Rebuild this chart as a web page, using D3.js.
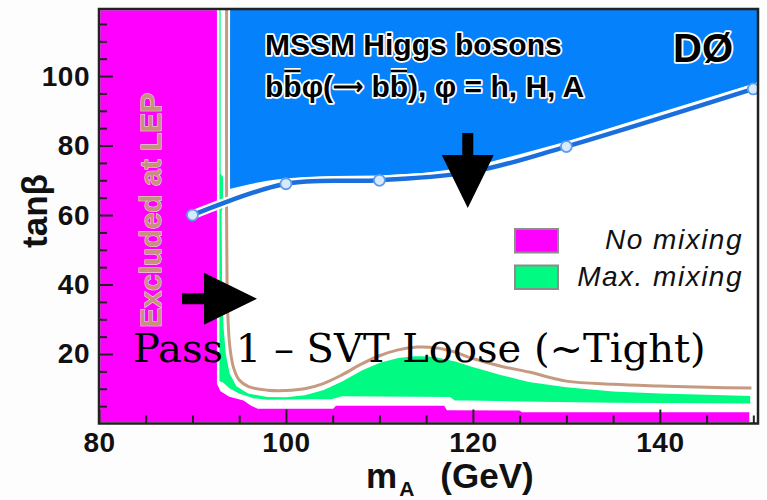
<!DOCTYPE html>
<html>
<head>
<meta charset="utf-8">
<script src="https://cdn.jsdelivr.net/npm/d3@7"></script>
<style>
  body { margin: 0; background: #fdfdfd; }
  svg { display: block; }
</style>
</head>
<body>
<div id="chart"></div>
<script>
// axis ticks
var xTicks = [80, 100, 120, 140];
var yTicks = [20, 40, 60, 80, 100];
var xMinor = [85, 90, 95, 105, 110, 115, 125, 130, 135, 145, 150];
var yMinor = [5, 10, 15, 25, 30, 35, 45, 50, 55, 65, 70, 75, 85, 90, 95, 105, 110, 115];

// D0 limit curve (points)
var limitMass = [90, 100, 110, 120, 130, 150];
var limitTanb = [60, 69, 70, 72.5, 79.7, 96.3];

// lower edge of the D0 excluded (blue) area
var d0EdgeMass = [93.95, 96, 98, 100, 105, 110, 115, 120, 125, 130, 140, 150, 150.5];
var d0EdgeTanb = [67.5, 68.8, 69.9, 70.6, 71.2, 71.4, 72.2, 74, 77.5, 81.2, 89.5, 97.8, 98.3];

// LEP excluded, no mixing (magenta)
var noMixMass = [80, 92.75, 92.75, 93.1, 94, 95.5, 96.3, 97, 105, 105.3, 117, 117.3, 125, 125.3, 149.7, 149.7, 80];
var noMixTanb = [119.3, 119.3, 11.5, 9.5, 8.0, 7.0, 5.5, 4.6, 4.6, 5.5, 5.5, 4.2, 4.1, 3.6, 3.6, 0, 0];

// LEP excluded, max. mixing (green)
var maxMixMass = [92.7, 93.15, 93.15, 93.55, 93.55, 93.25, 93.3, 93.45, 93.7, 94.1, 94.8, 96, 98, 100, 102, 104, 106, 108, 110, 112, 114, 116, 118, 120, 123, 126, 130, 135, 140, 145, 149.8,
                  149.8, 135, 125, 118, 117.5, 106, 105, 98, 96.5, 95, 93.8, 93.2, 92.7];
var maxMixTanb = [119.3, 119.3, 72, 70.5, 64, 61, 40, 28, 20, 14.5, 11, 9, 8, 7.9, 8.5, 10, 12.5, 15.5, 17.8, 19.2, 19.8, 19.5, 18.3, 16.6, 14.3, 12.3, 10.8, 9.6, 9.0, 8.6, 8.3,
                  5.4, 5.6, 6.0, 6.3, 7.3, 7.5, 6.7, 6.5, 6.9, 8.2, 10, 11.5, 12];

// LEP max. mixing contour (brown line)
var lepLineMass = [93.65, 93.65, 93.7, 93.8, 94.0, 94.4, 95.0, 96, 98, 100, 102, 104, 106, 108, 110, 112, 114, 116, 118, 120, 123, 126, 130, 135, 140, 145, 149.8];
var lepLineTanb = [119.3, 60, 40, 30, 22, 16, 12.5, 10.6, 9.6, 9.5, 10, 11.5, 14, 17, 19.5, 21.2, 22, 21.8, 20.6, 18.7, 16.5, 14.8, 12.2, 11.3, 10.8, 10.4, 10.2];

var legendLabels = ['No mixing', 'Max. mixing'];

// annotation arrows: tip position in (mA, tanb)
var arrowMass = [119.45, 96.9];
var arrowTanb = [62, 35.9];
var arrowDir = ['down', 'right'];

function drawChart() {
  var W = 767, H = 500;
  var colors = { blue: '#0582fb', line: '#1b6fdc', noMix: '#ff00ff', maxMix: '#00fa82', brown: '#c59a80', lep: '#c4937a' };

  var x = d3.scaleLinear().domain([80, 150.5]).range([99, 758]);
  var y = d3.scaleLinear().domain([0, 119.3]).range([423.5, 9]);

  var svg = d3.select('#chart').append('svg')
    .attr('width', W)
    .attr('height', H)
    .style('font-family', '"Liberation Sans", Arial, sans-serif');

  svg.append('rect').attr('width', W).attr('height', H).attr('fill', '#fdfdfd');

  svg.append('clipPath').attr('id', 'plotClip')
    .append('rect')
    .attr('x', x(80)).attr('y', y(119.3))
    .attr('width', x(150.5) - x(80)).attr('height', y(0) - y(119.3));

  var plot = svg.append('g').attr('clip-path', 'url(#plotClip)');
  plot.append('rect')
    .attr('x', x(80)).attr('y', y(119.3))
    .attr('width', x(150.5) - x(80)).attr('height', y(0) - y(119.3))
    .attr('fill', '#fff');

  function pts(ms, ts) {
    return ms.map(function(m, i) { return [x(m), y(ts[i])]; });
  }
  var straight = d3.line();
  var smooth = d3.line().curve(d3.curveCatmullRom.alpha(0.5));

  // blue excluded area
  var bluePts = [[x(93.95), y(119.3)]].concat(pts(d0EdgeMass, d0EdgeTanb)).concat([[x(150.5), y(119.3)]]);
  plot.append('path')
    .attr('d', straight(bluePts) + 'Z')
    .attr('fill', colors.blue);

  // LEP regions
  plot.append('path')
    .attr('d', straight(pts(maxMixMass, maxMixTanb)) + 'Z')
    .attr('fill', colors.maxMix)
    .attr('stroke', '#fff').attr('stroke-width', 2.5);

  plot.append('path')
    .attr('d', straight(pts(noMixMass, noMixTanb)) + 'Z')
    .attr('fill', colors.noMix)
    .attr('stroke', '#fff').attr('stroke-width', 2.5);

  var lepLine = smooth(pts(lepLineMass, lepLineTanb));
  plot.append('path').attr('d', lepLine).attr('fill', 'none')
    .attr('stroke', '#fff').attr('stroke-width', 7);
  plot.append('path').attr('d', lepLine).attr('fill', 'none')
    .attr('stroke', colors.brown).attr('stroke-width', 3);

  // D0 limit curve
  var limitLine = smooth(pts(limitMass, limitTanb));
  plot.append('path').attr('d', limitLine).attr('fill', 'none')
    .attr('stroke', '#fff').attr('stroke-width', 9).attr('stroke-linecap', 'round');
  plot.append('path').attr('d', limitLine).attr('fill', 'none')
    .attr('stroke', colors.line).attr('stroke-width', 4.5).attr('stroke-linecap', 'round');

  plot.selectAll('circle.pt')
    .data(limitMass)
    .enter()
    .append('circle')
    .attr('class', 'pt')
    .attr('cx', function(d) { return x(d); })
    .attr('cy', function(d, i) { return y(limitTanb[i]); })
    .attr('r', 5.5)
    .attr('fill', '#d6e9ff')
    .attr('stroke', '#5c9de8')
    .attr('stroke-width', 1.8);

  // rotated LEP label
  plot.append('text')
    .attr('transform', 'translate(' + x(86.6) + ',' + y(61.4) + ') rotate(-90)')
    .attr('text-anchor', 'middle')
    .style('font-size', '30px')
    .style('font-weight', 'bold')
    .attr('fill', colors.lep)
    .attr('stroke', '#fbe6f5').attr('stroke-width', 1)
    .attr('paint-order', 'stroke')
    .text('Excluded at LEP');

  // titles inside the plot
  var titleG = svg.append('g')
    .style('font-weight', 'bold')
    .attr('fill', '#000')
    .attr('stroke', '#fff').attr('stroke-width', 3.5)
    .attr('paint-order', 'stroke')
    .attr('stroke-linejoin', 'round');

  titleG.append('text')
    .attr('x', 265).attr('y', 55)
    .style('font-size', '30px')
    .text('MSSM Higgs bosons');

  var line2 = titleG.append('text')
    .attr('x', 265).attr('y', 97)
    .style('font-size', '30px');
  line2.append('tspan').text('bb\u03c6(');
  line2.append('tspan').style('font-size', '21px').attr('dy', -3).text('\u27f6');
  line2.append('tspan').attr('dy', 3).text(' bb), \u03c6 = h, H, A');

  [1, 7].forEach(function(i) {
    var ext = line2.node().getExtentOfChar(i);
    var ly = 97 - 26;
    titleG.append('line')
      .attr('x1', ext.x + 1).attr('x2', ext.x + ext.width - 1)
      .attr('y1', ly).attr('y2', ly)
      .attr('stroke', '#fff').attr('stroke-width', 6);
    titleG.append('line')
      .attr('x1', ext.x + 1).attr('x2', ext.x + ext.width - 1)
      .attr('y1', ly).attr('y2', ly)
      .attr('stroke', '#000').attr('stroke-width', 2.5);
  });

  titleG.append('text')
    .attr('x', 733).attr('y', 62)
    .attr('text-anchor', 'end')
    .style('font-size', '40px')
    .text('D\u00d8');

  // legend
  var legend = svg.append('g');
  legend.selectAll('rect')
    .data(legendLabels)
    .enter()
    .append('rect')
    .attr('x', 515)
    .attr('y', function(d, i) { return 229 + i * 36.5; })
    .attr('width', 43)
    .attr('height', 23.5)
    .attr('fill', function(d, i) { return i === 0 ? colors.noMix : colors.maxMix; })
    .attr('stroke', '#8c8c8c')
    .attr('stroke-width', 2);
  legend.selectAll('text')
    .data(legendLabels)
    .enter()
    .append('text')
    .attr('x', 743)
    .attr('y', function(d, i) { return 249 + i * 36.5; })
    .attr('text-anchor', 'end')
    .style('font-size', '28px')
    .style('font-style', 'italic')
    .style('letter-spacing', '1.5px')
    .attr('fill', '#111')
    .text(function(d) { return d; });

  // arrows
  svg.selectAll('path.arrow')
    .data(arrowMass)
    .enter()
    .append('path')
    .attr('class', 'arrow')
    .attr('fill', '#000')
    .attr('transform', function(d, i) {
      var rot = arrowDir[i] === 'down' ? 90 : 0;
      return 'translate(' + x(d) + ',' + y(arrowTanb[i]) + ') rotate(' + rot + ')';
    })
    .attr('d', 'M0,0 L-53,-26 L-53,-5.5 L-75,-5.5 L-75,5.5 L-53,5.5 L-53,26 Z');

  // frame and axes
  var yAxis = d3.axisLeft(y).tickValues(yTicks).tickSize(-14).tickPadding(9).tickFormat(d3.format('d'));
  var yAxisMinor = d3.axisLeft(y).tickValues(yMinor).tickSize(-8).tickFormat('');
  var xAxis = d3.axisBottom(x).tickValues(xTicks).tickSize(-14).tickPadding(9).tickFormat(d3.format('d'));
  var xAxisMinor = d3.axisBottom(x).tickValues(xMinor).tickSize(-8).tickFormat('');

  [yAxis, yAxisMinor].forEach(function(ax) {
    svg.append('g')
      .attr('transform', 'translate(' + x(80) + ',0)')
      .call(ax);
  });
  [xAxis, xAxisMinor].forEach(function(ax) {
    svg.append('g')
      .attr('transform', 'translate(0,' + y(0) + ')')
      .call(ax);
  });
  svg.selectAll('.domain').remove();
  svg.selectAll('.tick line').attr('stroke', '#222').attr('stroke-width', 2);
  svg.selectAll('.tick text')
    .attr('fill', '#111')
    .style('font-size', '28px')
    .style('font-weight', 'bold')
    .style('font-family', '"Liberation Sans", Arial, sans-serif')
    .style('letter-spacing', '0.5px');

  svg.append('rect')
    .attr('x', x(80)).attr('y', y(119.3))
    .attr('width', x(150.5) - x(80)).attr('height', y(0) - y(119.3))
    .attr('fill', 'none')
    .attr('stroke', '#222')
    .attr('stroke-width', 2.5);

  // axis titles
  svg.append('text')
    .attr('transform', 'translate(47,211) rotate(-90)')
    .attr('text-anchor', 'middle')
    .style('font-size', '35px')
    .style('font-weight', 'bold')
    .attr('fill', '#111')
    .text('tan\u03b2');

  var xTitle = svg.append('text')
    .attr('x', 366).attr('y', 488)
    .style('font-weight', 'bold')
    .attr('fill', '#111');
  xTitle.append('tspan').style('font-size', '35px').text('m');
  xTitle.append('tspan').style('font-size', '21px').attr('dx', 2).attr('dy', 8).text('A');
  xTitle.append('tspan').style('font-size', '35px').attr('dx', 26).attr('dy', -8).text('(GeV)');

  // overlay caption
  svg.append('text')
    .attr('x', 133).attr('y', 362)
    .style('font-family', '"DejaVu Serif", serif')
    .style('font-size', '40px')
    .attr('fill', '#000')
    .text('Pass 1 \u2013 SVT Loose (~Tight)');
}

drawChart();
</script>
</body>
</html>
